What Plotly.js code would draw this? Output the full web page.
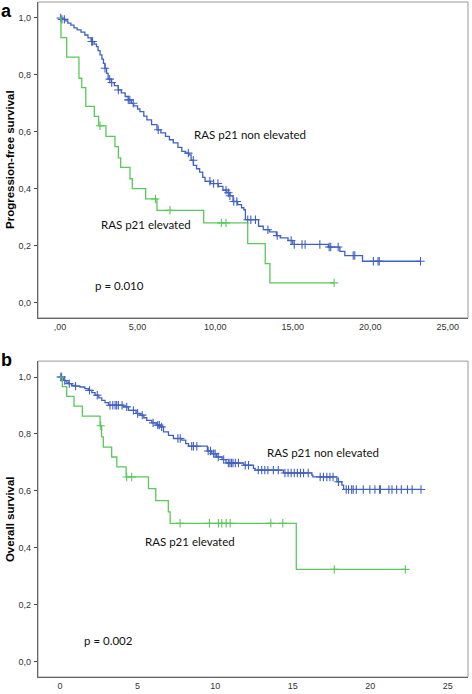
<!DOCTYPE html>
<html>
<head>
<meta charset="utf-8">
<script src="https://cdn.plot.ly/plotly-3.0.1.min.js"></script>
<style>
  html, body { margin: 0; padding: 0; background: #fff; }
  #chart { width: 472px; height: 694px; }
</style>
</head>
<body>
<div id="chart"></div>
<script>
// ---------- tick labels ----------
const xTickVals = [0, 5, 10, 15, 20, 25];
const pfsXTickText = [',00', '5,00', '10,00', '15,00', '20,00', '25,00'];
const osXTickText = ['0', '5', '10', '15', '20', '25'];
const yTickVals = [0, 0.2, 0.4, 0.6, 0.8, 1.0];
const yTickText = ['0,0', '0,2', '0,4', '0,6', '0,8', '1,0'];

// ---------- series names ----------
const groupNames = ['RAS p21 non elevated', 'RAS p21 elevated'];

// ---------- (a) progression-free survival ----------
// RAS p21 elevated: event times and survival after each step
const pfsElevT = [0.06, 0.43, 1.22, 1.40, 1.66, 2.21, 2.49, 2.96, 3.54, 3.76, 3.91, 4.51, 4.66, 5.52, 6.25, 9.26, 12.10, 13.23, 13.53];
const pfsElevS = [0.931, 0.862, 0.788, 0.755, 0.689, 0.654, 0.621, 0.584, 0.548, 0.508, 0.475, 0.435, 0.400, 0.364, 0.324, 0.280, 0.207, 0.137, 0.069];
const pfsElevCens = [2.58, 6.15, 7.09, 10.40, 10.70, 17.67];

// RAS p21 non elevated
const pfsNonT = [0.10, 0.30, 0.50, 0.70, 0.90, 1.10, 1.35, 1.60, 1.80, 2.00, 2.20, 2.35, 2.45, 2.58, 2.70, 2.80, 2.90, 3.00, 3.10, 3.30, 3.50, 3.75, 3.95, 4.20, 4.40, 4.60, 4.75, 5.00, 5.15, 5.40, 5.60, 5.90, 6.25, 6.50, 6.80, 7.05, 7.30, 7.60, 7.85, 8.10, 8.30, 8.45, 8.60, 8.80, 9.00, 9.20, 9.35, 9.70, 10.20, 10.50, 10.75, 10.95, 11.15, 11.45, 11.70, 11.85, 11.95, 12.80, 13.10, 13.50, 13.95, 14.20, 14.70, 15.00, 17.30, 18.04, 18.36, 19.50];
const pfsNonS = [0.995, 0.990, 0.982, 0.975, 0.965, 0.958, 0.950, 0.940, 0.930, 0.917, 0.908, 0.899, 0.885, 0.870, 0.855, 0.840, 0.823, 0.805, 0.785, 0.773, 0.762, 0.747, 0.737, 0.724, 0.712, 0.700, 0.691, 0.680, 0.671, 0.655, 0.642, 0.625, 0.607, 0.596, 0.584, 0.572, 0.561, 0.545, 0.531, 0.525, 0.519, 0.500, 0.482, 0.470, 0.458, 0.440, 0.426, 0.418, 0.408, 0.395, 0.386, 0.375, 0.355, 0.344, 0.333, 0.326, 0.291, 0.268, 0.256, 0.248, 0.235, 0.227, 0.218, 0.204, 0.195, 0.180, 0.165, 0.145];
const pfsNonCens = [0.04, 0.12, 0.28, 2.04, 2.10, 2.90, 3.20, 3.33, 3.76, 4.40, 4.50, 4.72, 6.33, 8.27, 8.59, 9.66, 9.90, 10.18, 10.70, 10.85, 10.95, 11.20, 11.40, 12.10, 12.30, 12.60, 13.40, 14.00, 14.90, 15.10, 15.60, 15.80, 16.75, 17.35, 17.45, 17.93, 18.90, 19.00, 20.20, 20.50, 20.58, 23.24];

// ---------- (b) overall survival ----------
const osElevT = [0.15, 0.43, 0.90, 1.44, 2.58, 2.68, 2.79, 3.33, 3.66, 4.26, 5.70, 6.17, 6.98, 7.10, 15.23];
const osElevS = [0.966, 0.932, 0.898, 0.863, 0.829, 0.790, 0.754, 0.719, 0.684, 0.649, 0.608, 0.566, 0.526, 0.486, 0.324];
const osElevCens = [2.62, 4.30, 4.62, 7.74, 9.63, 10.21, 10.43, 10.71, 10.97, 13.59, 14.36, 17.68, 22.26];

const osNonT = [0.15, 0.21, 0.40, 0.54, 0.75, 1.00, 1.29, 1.60, 1.83, 2.05, 2.26, 2.50, 2.69, 2.90, 3.12, 4.10, 4.41, 4.90, 5.16, 5.40, 5.59, 5.92, 6.24, 6.45, 6.67, 6.99, 7.31, 7.85, 8.10, 8.28, 9.50, 9.78, 10.10, 10.45, 10.70, 11.83, 12.47, 12.58, 14.40, 16.23, 16.30, 17.85, 18.17, 18.28];
const osNonS = [0.994, 0.988, 0.982, 0.977, 0.971, 0.968, 0.965, 0.959, 0.953, 0.945, 0.936, 0.927, 0.918, 0.910, 0.901, 0.895, 0.883, 0.872, 0.866, 0.857, 0.848, 0.839, 0.831, 0.825, 0.807, 0.795, 0.784, 0.778, 0.766, 0.757, 0.740, 0.731, 0.719, 0.710, 0.698, 0.690, 0.679, 0.673, 0.663, 0.655, 0.649, 0.632, 0.620, 0.605];
const osNonCens = [0.05, 0.10, 0.30, 0.60, 1.00, 1.90, 2.40, 3.22, 3.40, 3.55, 3.65, 3.76, 4.00, 4.30, 4.73, 5.00, 5.30, 6.00, 6.30, 6.40, 6.55, 7.60, 7.75, 8.49, 8.60, 8.82, 9.55, 9.70, 9.90, 10.00, 10.20, 10.55, 10.85, 10.95, 11.05, 11.15, 11.30, 11.50, 11.94, 12.15, 12.78, 13.00, 13.20, 13.40, 13.75, 14.07, 14.50, 14.70, 14.90, 15.10, 15.30, 15.50, 15.70, 16.00, 16.77, 16.98, 17.20, 17.40, 17.60, 17.95, 18.45, 18.60, 18.80, 18.90, 19.10, 19.55, 19.97, 20.30, 20.60, 20.65, 21.20, 21.40, 21.70, 22.00, 22.40, 22.70, 23.27];

// ---------- helpers ----------
const blue = '#4161c2';
const green = '#5ac85a';

function stepAt(t, T, S) {
  let s = 1;
  for (let i = 0; i < T.length; i++) { if (T[i] <= t) s = S[i]; else break; }
  return s;
}
function kmTraces(T, S, C, color, name, xa, ya) {
  const end = Math.max(T[T.length - 1], C.length ? C[C.length - 1] : 0);
  const x = [0].concat(T, [end]);
  const y = [1].concat(S, [S[S.length - 1]]);
  return [
    { type: 'scatter', mode: 'lines', x: x, y: y, line: { shape: 'hv', color: color, width: 1.3 },
      name: name, xaxis: xa, yaxis: ya, hoverinfo: 'skip' },
    { type: 'scatter', mode: 'markers', x: C, y: C.map(t => stepAt(t, T, S)),
      marker: { symbol: 'cross-thin', size: 6, line: { color: color, width: 1.1 } },
      name: name + ' censored', xaxis: xa, yaxis: ya, hoverinfo: 'skip' }
  ];
}

const data = [].concat(
  kmTraces(pfsNonT, pfsNonS, pfsNonCens, blue, groupNames[0], 'x', 'y'),
  kmTraces(pfsElevT, pfsElevS, pfsElevCens, green, groupNames[1], 'x', 'y'),
  kmTraces(osNonT, osNonS, osNonCens, blue, groupNames[0], 'x2', 'y2'),
  kmTraces(osElevT, osElevS, osElevCens, green, groupNames[1], 'x2', 'y2')
);

const tickFont = { family: 'Liberation Sans, Arial, sans-serif', size: 9, color: '#333' };
const labelFont = { family: 'Lato, Open Sans, sans-serif', size: 11.5, color: '#111' };
const axTitleFont = { family: 'Liberation Sans, Arial, sans-serif', size: 11.5, color: '#000', weight: 'bold' };

function xAxis(ticktext, anchor) {
  return { range: [-1.42, 26.3], tickvals: xTickVals, ticktext: ticktext, tickfont: tickFont,
    showgrid: false, zeroline: false, showline: true, linecolor: '#666', linewidth: 1.2,
    ticks: '', anchor: anchor, fixedrange: true };
}
function yAxis(domain, anchor) {
  return { range: [-0.054, 1.056], domain: domain, tickvals: yTickVals, ticktext: yTickText, tickfont: tickFont,
    showgrid: false, zeroline: false, showline: true, linecolor: '#666', linewidth: 1.2,
    ticks: 'outside', ticklen: 3, tickcolor: '#444', ticklabelstandoff: 1, anchor: anchor, fixedrange: true };
}

const layout = {
  width: 472, height: 694,
  margin: { l: 38, r: 4, t: 2, b: 17 },
  paper_bgcolor: '#fff', plot_bgcolor: '#fff',
  showlegend: false,
  xaxis: xAxis(pfsXTickText, 'y'),
  yaxis: yAxis([0.532, 1], 'x'),
  xaxis2: xAxis(osXTickText, 'y2'),
  yaxis2: yAxis([0, 0.468], 'x2'),
  shapes: [
    { type: 'rect', xref: 'x domain', yref: 'y domain', x0: 0, x1: 1, y0: 0, y1: 1, line: { color: '#999', width: 1 }, layer: 'below' },
    { type: 'rect', xref: 'x2 domain', yref: 'y2 domain', x0: 0, x1: 1, y0: 0, y1: 1, line: { color: '#999', width: 1 }, layer: 'below' }
  ],
  annotations: [
    { text: 'a', xref: 'paper', yref: 'paper', x: -0.09, y: 1.005, xanchor: 'left', yanchor: 'top', showarrow: false,
      font: { family: 'Liberation Sans, Arial, sans-serif', size: 18, color: '#000', weight: 'bold' } },
    { text: 'b', xref: 'paper', yref: 'paper', x: -0.09, y: 0.488, xanchor: 'left', yanchor: 'top', showarrow: false,
      font: { family: 'Liberation Sans, Arial, sans-serif', size: 18, color: '#000', weight: 'bold' } },
    { text: 'Progression-free survival', xref: 'paper', yref: 'y domain', x: -0.065, y: 0.5, textangle: -90,
      xanchor: 'center', yanchor: 'middle', showarrow: false, font: axTitleFont },
    { text: 'Overall survival', xref: 'paper', yref: 'y2 domain', x: -0.065, y: 0.5, textangle: -90,
      xanchor: 'center', yanchor: 'middle', showarrow: false, font: axTitleFont },
    { text: groupNames[0], xref: 'x', yref: 'y', x: 8.5, y: 0.589, xanchor: 'left', yanchor: 'middle', showarrow: false, font: labelFont },
    { text: groupNames[1], xref: 'x', yref: 'y', x: 2.53, y: 0.274, xanchor: 'left', yanchor: 'middle', showarrow: false, font: labelFont },
    { text: 'p = 0.010', xref: 'x', yref: 'y', x: 2.1, y: 0.06, xanchor: 'left', yanchor: 'middle', showarrow: false, font: labelFont },
    { text: groupNames[0], xref: 'x2', yref: 'y2', x: 13.2, y: 0.735, xanchor: 'left', yanchor: 'middle', showarrow: false, font: labelFont },
    { text: groupNames[1], xref: 'x2', yref: 'y2', x: 5.37, y: 0.421, xanchor: 'left', yanchor: 'middle', showarrow: false, font: labelFont },
    { text: 'p = 0.002', xref: 'x2', yref: 'y2', x: 1.4, y: 0.073, xanchor: 'left', yanchor: 'middle', showarrow: false, font: labelFont }
  ]
};

Plotly.newPlot('chart', data, layout, { staticPlot: true, displayModeBar: false });
</script>
</body>
</html>
